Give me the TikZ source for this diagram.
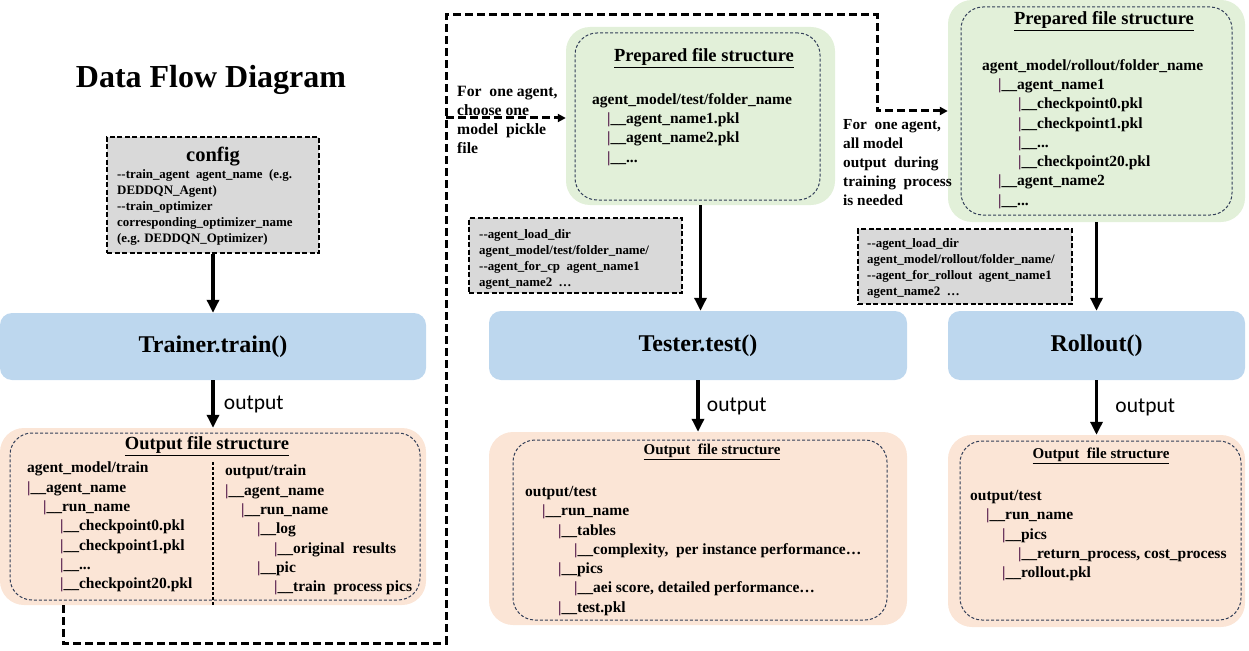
\documentclass[tikz,border=0pt]{standalone}
\usepackage{fontspec}
\setmainfont{Liberation Serif}
\newfontfamily\calfont{Carlito}
\usetikzlibrary{arrows.meta,positioning}

\definecolor{bluebox}{RGB}{189,215,238}
\definecolor{greenbox}{RGB}{226,240,217}
\definecolor{peachbox}{RGB}{251,229,214}
\definecolor{greybox}{RGB}{217,217,217}
\definecolor{innerline}{RGB}{50,62,88}
\definecolor{barcol}{RGB}{80,20,70}

\newcommand{\tb}{{\color{barcol}|}\_\_}
\newcommand{\ind}[1]{\hspace*{#1pt}}

\tikzset{
  stagebox/.style={fill=bluebox, rounded corners=12pt, font=\fontsize{24}{28}\selectfont\bfseries},
  prepbox/.style={fill=greenbox, rounded corners=24pt},
  outbox/.style={fill=peachbox, rounded corners=24pt},
  innerbox/.style={draw=innerline, dash pattern=on 3pt off 2pt, line width=1pt, rounded corners=22pt},
  argbox/.style={draw, fill=greybox, dash pattern=on 5pt off 2.5pt, line width=2pt},
  tree/.style={align=left, anchor=north west, inner sep=0pt, yshift=-3pt, font=\fontsize{15.5}{19.3}\selectfont\bfseries},
  args/.style={align=left, anchor=north west, inner sep=0pt, font=\fontsize{12.9}{16}\selectfont\bfseries},
  note/.style={align=left, anchor=north west, inner sep=0pt, font=\fontsize{15.7}{19}\selectfont\bfseries},
  boxtitle/.style={inner sep=0pt, font=\fontsize{18.5}{22}\selectfont\bfseries},
  smalltitle/.style={inner sep=0pt, font=\fontsize{15}{18}\selectfont\bfseries},
  flow/.style={-{Triangle[length=13pt,width=12pt]}, line width=3.2pt},
  loopline/.style={line width=3pt, dash pattern=on 8pt off 4pt},
  looparrow/.style={loopline, -{Triangle[length=8pt,width=8pt]}},
  outlabel/.style={font=\calfont\fontsize{21.5}{25}\selectfont}
}

\begin{document}
\begin{tikzpicture}[x=1pt, y=-1pt]
\useasboundingbox (0,0) rectangle (1249,650);

\node (title) at (211,80) {\fontsize{32}{37}\selectfont\bfseries Data Flow Diagram};

% training
\node (config) [argbox, minimum width=212pt, minimum height=116pt] at (213,195) {};
\node (configtitle) at (213,157) {\fontsize{20.5}{24}\selectfont\bfseries config};
\node (configargs) [args] at (117,169) {-{}-train\_agent\ \ agent\_name\ \ (e.g.\\ DEDDQN\_Agent)\\ -{}-train\_optimizer\\ corresponding\_optimizer\_name\\ (e.g. DEDDQN\_Optimizer)};
\node (trainer) [stagebox, minimum width=426pt, minimum height=67pt] at (213,346.5) {Trainer.train()};
\node (trainout) [outbox, minimum width=426pt, minimum height=177pt] at (213,516.5) {};
\node (trainin) [innerbox, minimum width=410pt, minimum height=167pt] at (215,516.5) {};
\node (traintitle) [boxtitle] at (207,446) {\underline{Output file structure}};
\draw[dash pattern=on 3pt off 2pt, line width=1.4pt] (213,462) -- (213,605);
\node (trainmodels) [tree] at (27,459) {agent\_model/train\\ \tb agent\_name\\ \ind{16}\tb run\_name\\ \ind{33}\tb checkpoint0.pkl\\ \ind{33}\tb checkpoint1.pkl\\ \ind{33}\tb ...\\ \ind{33}\tb checkpoint20.pkl};
\node (trainfiles) [tree] at (225,462) {output/train\\ \tb agent\_name\\ \ind{16}\tb run\_name\\ \ind{32}\tb log\\ \ind{49}\tb original\ \ results\\ \ind{32}\tb pic\\ \ind{49}\tb train\ \ process pics};

\draw[flow] (config) -- (trainer);
\draw[flow] (trainer) -- node[outlabel, right=6pt] {output} (trainout);

% testing
\node (testprep) [prepbox, minimum width=269pt, minimum height=178pt] at (700.5,116) {};
\node (testprepin) [innerbox, minimum width=245pt, minimum height=167pt] at (697.5,116.5) {};
\node (testpreptitle) [boxtitle] at (704,58) {\underline{Prepared file structure}};
\node (testpreptree) [tree] at (592,90) {agent\_model/test/folder\_name\\ \ind{15}\tb agent\_name1.pkl\\ \ind{15}\tb agent\_name2.pkl\\ \ind{15}\tb ...};
\node (picknote) [note] at (457,86) {For\ \ one agent,\\ choose one\\ model\ \ pickle\\ file};
\node (testargs) [argbox, minimum width=213pt, minimum height=75pt] at (575.5,255.5) {};
\node (testargstext) [args] at (479,229) {-{}-agent\_load\_dir\\ agent\_model/test/folder\_name/\\ -{}-agent\_for\_cp\ \ agent\_name1\\ agent\_name2\ \ …};
\node (tester) [stagebox, minimum width=418pt, minimum height=69pt] at (698,345.5) {Tester.test()};
\node (testout) [outbox, minimum width=418pt, minimum height=193pt] at (698,528.5) {};
\node (testoutin) [innerbox, minimum width=374pt, minimum height=180pt] at (700,530) {};
\node (testouttitle) [smalltitle] at (712,452) {\underline{Output\ \ file structure}};
\node (testouttree) [tree] at (525,483) {output/test\\ \ind{17}\tb run\_name\\ \ind{33}\tb tables\\ \ind{49}\tb complexity,\ \ per instance performance…\\ \ind{33}\tb pics\\ \ind{49}\tb aei score, detailed performance…\\ \ind{33}\tb test.pkl};

\draw[flow] (testprep) -- (testprep |- tester.north);
\draw[flow] (tester) -- node[outlabel, right=4pt] {output} (testout);

% rollout
\node (rollprep) [prepbox, minimum width=297pt, minimum height=222pt] at (1096.5,111) {};
\node (rollprepin) [innerbox, minimum width=271pt, minimum height=208pt] at (1096.5,111) {};
\node (rollpreptitle) [boxtitle] at (1104,21) {\underline{Prepared file structure}};
\node (rollpreptree) [tree] at (982,56) {agent\_model/rollout/folder\_name\\ \ind{16}\tb agent\_name1\\ \ind{36}\tb checkpoint0.pkl\\ \ind{36}\tb checkpoint1.pkl\\ \ind{36}\tb ...\\ \ind{36}\tb checkpoint20.pkl\\ \ind{16}\tb agent\_name2\\ \ind{16}\tb ...};
\node (allnote) [note, font=\fontsize{15.3}{19}\selectfont\bfseries] at (843,119) {For\ \ one agent,\\ all model\\ output\ \ during\\ training\ \ process\\ is needed};
\node (rollargs) [argbox, minimum width=214pt, minimum height=75pt] at (965,266.5) {};
\node (rollargstext) [args] at (867,238) {-{}-agent\_load\_dir\\ agent\_model/rollout/folder\_name/\\ -{}-agent\_for\_rollout\ \ agent\_name1\\ agent\_name2\ \ …};
\node (rollout) [stagebox, minimum width=297pt, minimum height=69pt] at (1096.5,345.5) {Rollout()};
\node (rollout2) [outbox, minimum width=297pt, minimum height=192pt] at (1096.5,531) {};
\node (rolloutin) [innerbox, minimum width=281pt, minimum height=179pt] at (1100.5,530.5) {};
\node (rollouttitle) [smalltitle] at (1101,456) {\underline{Output\ \ file structure}};
\node (rollouttree) [tree] at (970,487) {output/test\\ \ind{16}\tb run\_name\\ \ind{32}\tb pics\\ \ind{48}\tb return\_process, cost\_process\\ \ind{32}\tb rollout.pkl};

\draw[flow] (rollprep) -- (rollout);
\draw[flow] (rollout) -- node[outlabel, right=14pt] {output} (rollout2);

% model loop
\coordinate (lc1) at (63,643);
\coordinate (lc2) at (446,643);
\coordinate (lc3) at (446,15);
\coordinate (lc4) at (877,15);
\coordinate (branch) at (446,118);
\draw[looparrow] (trainout.south -| lc1) -- (lc1) -- (lc2) -- (lc3) -- (lc4) |- (rollprep);
\draw[looparrow] (branch) -- (branch -| testprep.west);
\end{tikzpicture}
\end{document}
